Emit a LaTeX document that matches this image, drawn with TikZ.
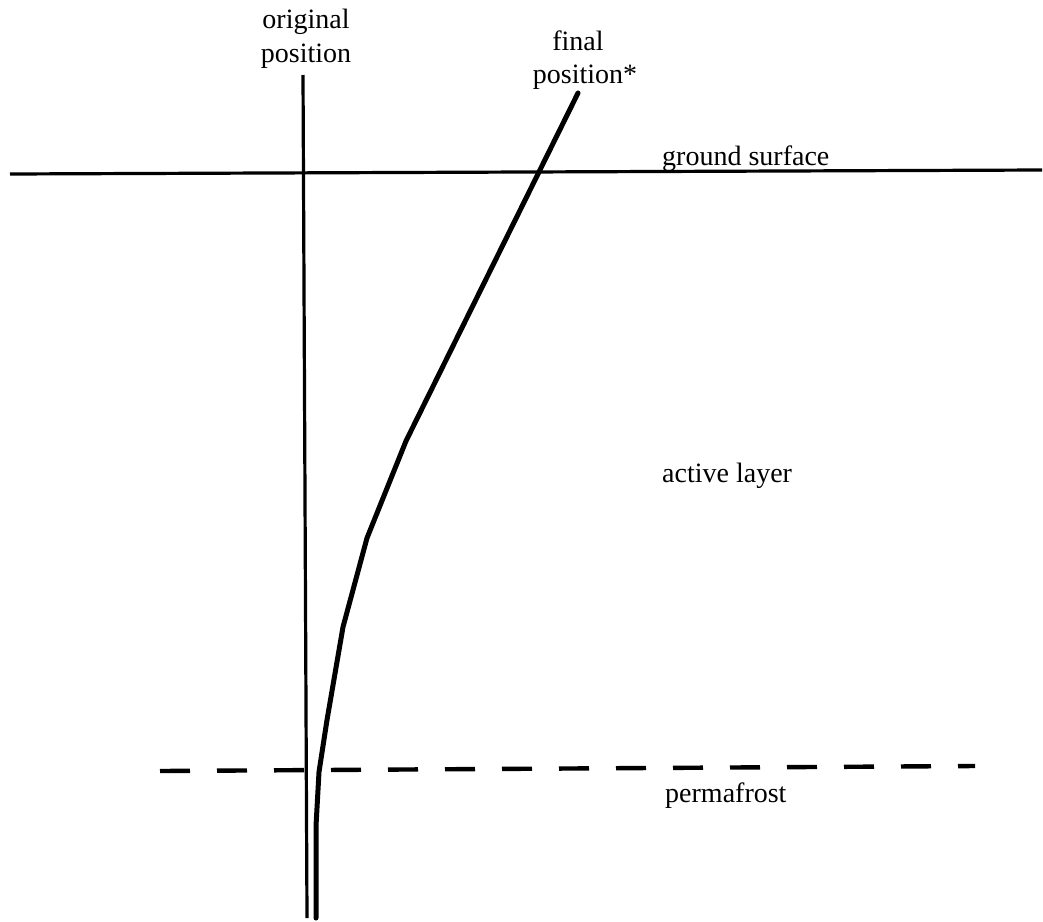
\documentclass[tikz,border=0pt]{standalone}
\usepackage{fontspec}
\setmainfont{Liberation Serif}
\begin{document}
\begin{tikzpicture}[x=1pt,y=-1pt,
  lbl/.style={inner sep=0pt,anchor=base,font=\fontsize{28pt}{34pt}\selectfont},
  lblw/.style={lbl,anchor=base west},
  thinline/.style={line width=3.2pt},
  groundline/.style={line width=3.2pt},
  finalline/.style={line width=5pt,line join=round,line cap=round},
  pfline/.style={line width=4.4pt,dash pattern=on 30pt off 27pt}]
\useasboundingbox (0,0) rectangle (1043,921);
% labels
\node[lbl] (orig1) at (306,28) {original};
\node[lbl] (orig2) at (306,62) {position};
\node[lbl] (fin1) at (578,50) {final};
\node[lbl] (fin2) at (578,83) {position\rlap{*}};
\node[lblw] (gs) at (662,165) {ground surface};
\node[lblw] (al) at (662,482) {active layer};
\node[lblw] (pf) at (665,802) {permafrost};
% ground surface
\coordinate (gL) at (10,174);
\coordinate (gR) at (1042,170);
\draw[groundline] (gL) -- (gR);
% permafrost table
\coordinate (pL) at (160,771);
\coordinate (pR) at (975,766);
\draw[pfline] (pL) -- (pR);
% original position
\coordinate (oT) at (303,75);
\coordinate (oB) at (307,918);
\draw[thinline] (oT) -- (oB);
% final position
\coordinate (f0) at (578,93);
\coordinate (f1) at (406,441);
\coordinate (f2) at (367,538);
\coordinate (f3) at (343,627);
\coordinate (f4) at (327,720);
\coordinate (f5) at (319,772);
\coordinate (f6) at (316,826);
\coordinate (f7) at (316,918);
\draw[finalline] (f0) -- (f1) -- (f2) -- (f3) -- (f4) -- (f5) -- (f6) -- (f7);
\end{tikzpicture}
\end{document}
